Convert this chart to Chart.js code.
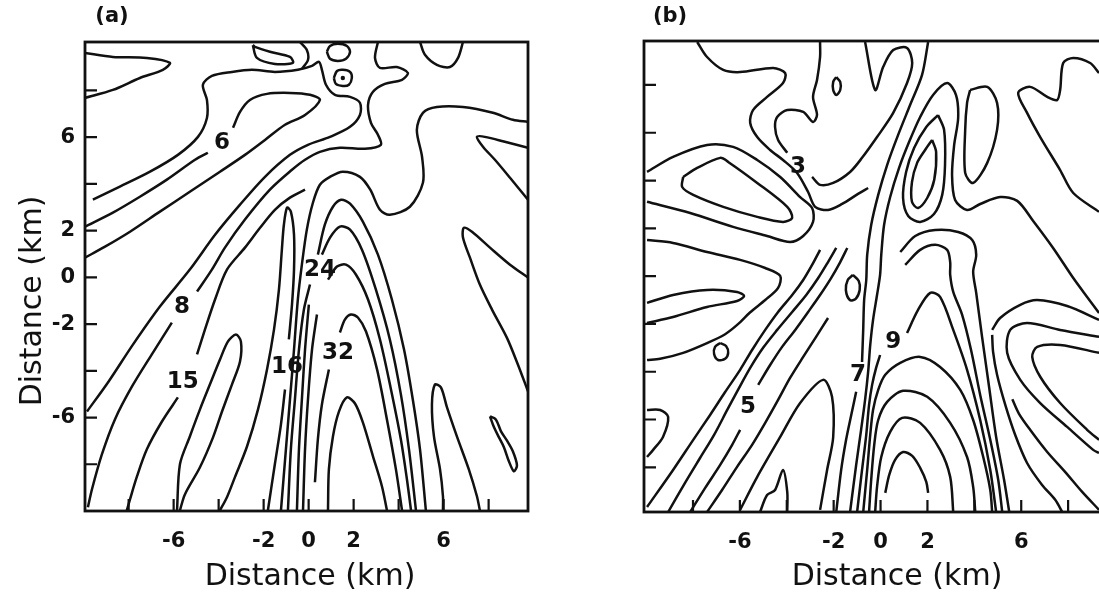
<!DOCTYPE html>
<html>
<head>
<meta charset="utf-8">
<script src="https://cdn.jsdelivr.net/npm/chart.js@4"></script>
<style>
  html, body { margin: 0; padding: 0; background: #fff; overflow: hidden; width: 1099px; height: 594px; }
  #ca { position: absolute; left: 0; top: 0; }
  #cb { position: absolute; left: 560px; top: 0; }
</style>
</head>
<body>
<canvas id="ca" width="560" height="594"></canvas>
<canvas id="cb" width="600" height="594"></canvas>
<script>
// ---- axis ticks (km) ----
const xTickLabels = [-6, -2, 0, 2, 6];
const yTickLabels = [6, 2, 0, -2, -6];

// ---- panel (a) contours, [x km, y km] ----
const aTopLobe = [[-9.94,9.60],[-8.70,9.43],[-7.19,9.39],[-6.17,9.18],[-6.48,8.88],[-7.50,8.53],[-8.70,8.02],[-9.94,7.68]];
const aThinLoop = [[-2.48,9.94],[-2.30,9.39],[-1.50,9.13],[-0.70,9.18],[-0.83,9.43],[-1.72,9.65],[-2.39,9.86],[-2.48,9.94]];
const aHook = [[-0.39,10.07],[-0.08,9.73],[-0.03,9.30],[-0.30,8.92]];
const aOval = [[0.81,9.65],[0.95,9.90],[1.30,9.99],[1.70,9.90],[1.84,9.65],[1.66,9.35],[1.30,9.26],[0.95,9.35],[0.81,9.65]];
const aRing = [[1.12,8.53],[1.26,8.83],[1.52,8.88],[1.84,8.79],[1.92,8.53],[1.79,8.24],[1.52,8.19],[1.21,8.28],[1.12,8.53]];
const aRingDot = [[1.52,8.53]];
const aSpike = [[-9.59,3.32],[-8.39,3.88],[-7.05,4.52],[-5.81,5.24],[-4.92,6.01],[-4.52,6.82],[-4.52,7.59],[-4.70,8.24],[-4.30,8.62],[-3.41,8.79],[-2.52,8.88],[-1.50,8.79],[-0.48,8.88],[0.15,9.05],[0.46,9.22],[0.59,8.88],[0.77,8.24],[1.17,7.81],[1.84,7.72],[2.28,7.47],[2.28,6.95],[1.84,6.44],[0.95,6.01],[-0.03,5.67],[-0.83,5.24],[-1.94,4.30],[-3.05,3.11],[-4.16,1.82],[-5.28,0.33],[-6.61,-1.25],[-7.81,-2.88],[-8.92,-4.50],[-9.85,-5.74]];
const a6a = [[-9.94,2.17],[-8.70,2.77],[-7.50,3.45],[-6.30,4.18],[-5.05,5.03],[-4.48,5.33]];
const a6b = [[-3.36,6.40],[-3.05,7.08],[-2.61,7.59],[-1.85,7.85],[-0.83,7.89],[0.06,7.81],[0.50,7.59],[-0.16,6.95],[-1.05,6.53],[-1.94,5.88],[-2.83,5.24],[-3.94,4.52],[-5.28,3.66],[-6.61,2.81],[-7.94,1.95],[-9.05,1.31],[-9.94,0.84]];
const a8a = [[3.08,10.07],[2.95,9.39],[3.17,8.96],[3.92,9.00],[4.41,8.75],[4.15,8.45],[3.39,8.28],[2.86,7.94],[2.64,7.38],[2.77,6.61],[3.08,6.10],[3.21,5.67],[2.50,5.50],[1.39,5.54],[0.50,5.37],[-0.16,5.03],[-0.74,4.60],[-1.72,3.75],[-2.83,2.47],[-3.72,1.27],[-4.30,0.33],[-4.96,-0.61]];
const a8b = [[-6.08,-1.94],[-6.92,-3.22],[-7.85,-4.67],[-8.61,-6.08],[-9.19,-7.58],[-9.63,-9.07],[-9.81,-9.84]];
const a15a = [[-0.16,3.75],[-0.83,3.41],[-1.50,2.89],[-2.16,2.12],[-2.83,1.27],[-3.63,0.33],[-4.16,-0.95],[-4.61,-2.24],[-4.96,-3.30]];
const a15b = [[-5.81,-5.14],[-6.52,-6.17],[-7.19,-7.36],[-7.63,-8.52],[-7.94,-9.50],[-8.08,-9.97]];
const aFinger = [[-5.85,-9.97],[-5.72,-8.00],[-5.28,-6.81],[-4.83,-5.65],[-4.39,-4.59],[-3.94,-3.52],[-3.59,-2.75],[-3.23,-2.45],[-3.01,-2.75],[-3.05,-3.60],[-3.41,-4.59],[-3.85,-5.74],[-4.25,-6.85],[-4.83,-8.13],[-5.50,-9.29],[-5.72,-9.97]];
const a16a = [[-3.94,-9.97],[-3.63,-9.41],[-3.28,-8.56],[-2.74,-7.24],[-2.25,-5.65],[-1.85,-3.94],[-1.54,-2.24],[-1.32,-0.53],[-1.19,1.18],[-1.10,2.25],[-0.96,2.98],[-0.79,2.81],[-0.65,1.82],[-0.65,0.33],[-0.74,-1.17],[-0.88,-2.66]];
const a16b = [[-1.05,-4.80],[-1.23,-6.29],[-1.50,-7.99],[-1.81,-9.97]];
const aV = [[9.75,6.65],[9.08,6.74],[8.19,7.04],[6.86,7.29],[5.70,7.29],[5.08,7.04],[4.81,6.31],[5.04,5.16],[5.08,4.05],[4.50,3.02],[3.61,2.68],[3.17,2.89],[2.74,3.75],[2.28,4.30],[1.52,4.52],[0.95,4.30],[0.50,3.96],[0.19,3.19],[-0.08,2.04],[-0.30,0.54],[-0.48,-0.95],[-0.65,-3.09],[-0.83,-5.23],[-1.01,-7.36],[-1.23,-9.97]];
const a24a = [[-0.92,-9.97],[-0.79,-7.36],[-0.61,-5.23],[-0.43,-3.09],[-0.21,-1.38],[0.06,-0.31]];
const a24b = [[0.41,0.97],[0.72,2.25],[1.08,3.02],[1.44,3.32],[1.84,3.15],[2.41,2.38],[3.08,0.97],[3.70,-0.95],[4.24,-3.09],[4.63,-5.23],[4.95,-7.36],[5.21,-9.97]];
const aA4a = [[-0.52,-9.97],[-0.43,-7.36],[-0.30,-5.23],[-0.16,-3.09],[0.01,-1.17]];
const aA4b = [[0.59,0.97],[0.95,1.70],[1.39,2.17],[1.84,2.04],[2.37,1.18],[2.99,-0.53],[3.61,-2.66],[4.10,-5.01],[4.46,-7.36],[4.77,-9.97]];
const aA3a = [[-0.25,-9.97],[-0.16,-7.36],[-0.03,-5.23],[0.15,-3.09],[0.37,-1.59]];
const aA3b = [[0.86,-0.10],[1.26,0.46],[1.66,0.54],[2.10,0.12],[2.64,-0.95],[3.17,-2.66],[3.66,-4.80],[4.10,-6.94],[4.37,-8.65],[4.55,-9.97]];
const a32a = [[0.28,-8.77],[0.41,-6.94],[0.59,-5.44],[0.90,-3.94]];
const a32b = [[1.39,-2.36],[1.61,-1.81],[1.88,-1.59],[2.19,-1.72],[2.55,-2.32],[3.04,-3.94],[3.48,-6.08],[3.88,-8.22],[4.15,-9.97]];
const aA1 = [[0.86,-9.97],[0.90,-8.22],[1.08,-6.81],[1.35,-5.74],[1.70,-5.14],[2.06,-5.40],[2.41,-6.21],[2.86,-7.66],[3.26,-8.95],[3.48,-9.97]];
const aTongue1 = [[9.75,5.54],[8.72,5.80],[7.83,6.01],[7.48,6.01],[7.75,5.59],[8.28,5.03],[8.95,4.26],[9.75,3.32]];
const aTongue2 = [[9.75,-0.01],[8.95,0.54],[8.06,1.27],[7.26,1.95],[6.90,2.12],[6.86,1.70],[7.17,0.84],[7.61,-0.31],[8.15,-1.38],[8.81,-2.58],[9.30,-3.73],[9.75,-4.88]];
const aDip = [[4.95,10.07],[5.17,9.52],[5.70,9.09],[6.28,9.00],[6.64,9.39],[6.86,10.07]];
const aFinger2 = [[5.97,-9.97],[5.97,-9.37],[5.84,-8.22],[5.57,-6.81],[5.48,-5.44],[5.61,-4.59],[5.88,-4.71],[6.15,-5.57],[6.59,-6.81],[7.12,-8.22],[7.48,-9.37],[7.61,-9.97]];
const aSquiggle = [[8.06,-5.95],[8.24,-6.42],[8.46,-6.85],[8.68,-7.27],[8.90,-7.87],[9.12,-8.30],[9.26,-8.05],[9.08,-7.45],[8.81,-6.98],[8.55,-6.59],[8.32,-6.08],[8.06,-5.95]];

// contour labels, panel (a)
const aLabelText = ['6', '8', '15', '16', '24', '32'];
const aLabelX = [-3.85, -5.63, -5.59, -0.96, 0.50, 1.30];
const aLabelY = [5.76, -1.29, -4.46, -3.86, 0.33, -3.22];

// ---- panel (b) contours ----
const bTop = [[-7.82,9.80],[-7.40,9.17],[-6.71,8.63],[-5.99,8.54],[-4.58,8.71],[-4.07,8.50],[-4.16,8.08],[-4.84,7.50],[-5.44,6.95],[-5.56,6.41],[-5.26,5.82],[-4.71,5.28],[-4.16,4.86],[-3.56,4.32],[-3.09,3.52],[-2.79,2.90],[-2.24,2.77],[-1.64,3.02],[-0.96,3.44],[-0.53,3.69]];
const b3a = [[-2.58,9.80],[-2.58,9.17],[-2.71,8.21],[-2.88,7.50],[-2.71,6.75],[-2.88,6.45],[-3.30,6.87],[-3.98,6.95],[-4.41,6.66],[-4.50,6.24],[-4.37,5.70],[-3.98,5.16]];
const b3b = [[-2.92,4.15],[-2.58,3.82],[-2.02,3.90],[-1.30,4.36],[-0.79,4.95],[-0.15,5.82],[0.54,6.83],[1.13,8.08],[1.35,8.92],[1.13,9.55],[0.54,9.46],[0.11,8.75],[-0.23,7.79],[-0.66,9.80]];
const bDot = [[-1.89,8.33],[-1.72,8.13],[-1.72,7.79],[-1.89,7.58],[-2.02,7.79],[-2.02,8.13],[-1.89,8.33]];
const bTongueOuter = [[-9.96,4.36],[-8.85,4.99],[-7.40,5.49],[-6.29,5.41],[-5.26,4.86],[-4.28,4.15],[-3.43,3.31],[-2.92,2.85],[-2.88,2.27],[-3.30,1.68],[-3.86,1.43],[-4.84,1.68],[-6.29,2.06],[-8.12,2.64],[-9.96,3.11]];
const bLoop = [[-8.42,4.15],[-7.82,4.53],[-6.84,4.95],[-6.50,4.78],[-5.26,3.90],[-3.98,2.90],[-3.77,2.44],[-4.16,2.27],[-5.26,2.48],[-6.71,2.90],[-7.99,3.40],[-8.46,3.73],[-8.42,4.15]];
const bTongueMid = [[-9.96,1.51],[-8.85,1.39],[-7.40,1.01],[-5.99,0.68],[-4.92,0.34],[-4.28,0.01],[-4.37,-0.49],[-4.92,-1.00],[-5.56,-1.51],[-6.08,-2.01],[-6.63,-2.43],[-7.40,-2.80],[-8.42,-3.21],[-9.40,-3.46],[-9.96,-3.51]];
const bTongueIn = [[-9.96,-1.12],[-8.85,-0.79],[-7.40,-0.58],[-6.12,-0.66],[-5.82,-0.83],[-6.12,-1.04],[-7.40,-1.29],[-8.85,-1.71],[-9.96,-1.96]];
const bRing = [[-6.84,-2.80],[-6.59,-2.92],[-6.50,-3.21],[-6.63,-3.46],[-6.93,-3.51],[-7.10,-3.26],[-7.06,-2.96],[-6.84,-2.80]];
const bNub = [[-9.96,-5.60],[-9.40,-5.60],[-9.06,-5.89],[-9.28,-6.73],[-9.70,-7.27],[-9.96,-7.57]];
const bD1 = [[-9.96,-9.66],[-8.85,-8.11],[-7.99,-6.85],[-7.27,-5.81],[-6.63,-4.85],[-5.99,-3.92],[-5.48,-3.09],[-4.92,-2.25],[-4.37,-1.50],[-3.77,-0.79],[-3.30,-0.16],[-2.92,0.47],[-2.58,1.10]];
const bD2 = [[-9.06,-9.87],[-8.34,-8.65],[-7.70,-7.61],[-7.10,-6.64],[-6.54,-5.60],[-6.08,-4.76],[-5.56,-3.84],[-5.01,-3.00],[-4.41,-2.25],[-3.77,-1.50],[-3.17,-0.79],[-2.66,-0.08],[-2.24,0.59],[-1.89,1.18]];
const bD3a = [[-8.12,-9.87],[-7.48,-8.86],[-6.84,-7.90],[-6.33,-7.06],[-5.99,-6.43]];
const bD3b = [[-5.22,-4.55],[-4.71,-3.72],[-4.20,-2.96],[-3.64,-2.25],[-3.09,-1.50],[-2.58,-0.79],[-2.11,-0.08],[-1.72,0.59],[-1.42,1.18]];
const bD4 = [[-7.40,-9.87],[-6.76,-8.95],[-6.12,-7.98],[-5.48,-7.06],[-4.92,-6.14],[-4.37,-5.18],[-3.86,-4.26],[-3.30,-3.38],[-2.75,-2.54],[-2.24,-1.75]];
const bLobe = [[-5.99,-9.78],[-5.26,-8.40],[-4.28,-6.73],[-3.43,-5.31],[-2.45,-4.34],[-2.07,-5.05],[-2.02,-6.73],[-2.28,-8.11],[-2.58,-9.78]];
const bBump = [[-5.14,-9.87],[-4.84,-9.16],[-4.50,-8.95],[-4.16,-8.11],[-3.98,-9.03],[-3.98,-9.87]];
const bSmallOval = [[-1.18,0.05],[-0.93,-0.20],[-0.89,-0.58],[-1.06,-0.95],[-1.31,-1.00],[-1.48,-0.58],[-1.40,-0.16],[-1.18,0.05]];
const b7a = [[2.03,9.80],[1.77,8.42],[1.26,7.16],[0.75,5.91],[0.28,4.65],[-0.10,3.40],[-0.40,2.14],[-0.57,0.89],[-0.61,-0.16],[-0.70,-1.00],[-0.74,-2.25],[-0.79,-3.59]];
const b7b = [[-1.04,-4.84],[-1.25,-5.81],[-1.47,-6.85],[-1.68,-8.11],[-1.89,-9.87]];
const bO = [[9.32,-1.54],[8.81,-0.87],[8.22,-0.08],[7.36,1.18],[6.51,2.31],[5.83,3.15],[5.10,3.31],[4.25,3.02],[3.69,2.77],[3.18,3.19],[3.05,4.23],[3.14,5.49],[3.31,6.62],[3.22,7.58],[2.84,8.08],[2.24,7.58],[1.69,6.66],[1.22,5.62],[0.79,4.53],[0.41,3.31],[0.15,2.14],[0.03,0.89],[-0.02,0.05],[-0.15,-0.79],[-0.32,-1.83],[-0.44,-2.88],[-0.53,-4.01],[-0.66,-5.18],[-0.83,-6.43],[-1.04,-7.90],[-1.30,-9.87]];
const bLobe2 = [[2.45,6.74],[2.71,6.12],[2.75,4.65],[2.63,3.40],[2.28,2.60],[1.69,2.27],[1.18,2.52],[0.96,3.27],[1.09,4.36],[1.43,5.36],[1.95,6.24],[2.45,6.74]];
const bInner = [[2.20,5.70],[2.37,5.20],[2.29,4.03],[1.99,3.27],[1.60,2.85],[1.34,3.11],[1.34,3.94],[1.56,4.74],[1.90,5.28],[2.20,5.70]];
const bOval = [[3.82,7.79],[4.55,7.92],[4.97,7.25],[4.97,6.12],[4.55,4.74],[3.95,3.90],[3.61,4.32],[3.61,6.12],[3.69,7.25],[3.82,7.79]];
const bFar = [[9.32,8.50],[8.94,8.92],[8.22,9.13],[7.79,8.92],[7.66,7.79],[7.53,7.37],[7.11,7.50],[6.38,7.92],[5.87,7.67],[6.25,6.83],[6.81,5.82],[7.66,4.44],[8.22,3.48],[9.32,2.69]];
const b9a = [[-1.00,-9.87],[-0.79,-8.11],[-0.61,-6.64],[-0.49,-5.39],[-0.36,-4.55],[-0.19,-3.84],[-0.02,-3.30]];
const b9b = [[1.13,-2.38],[1.60,-1.41],[2.12,-0.70],[2.54,-0.87],[3.10,-2.25],[3.69,-3.92],[4.25,-6.02],[4.68,-8.11],[4.93,-9.87]];
const bA4 = [[-0.74,-9.87],[-0.57,-8.11],[-0.44,-6.64],[-0.32,-5.60],[-0.10,-4.76],[0.20,-4.13],[0.84,-3.63],[1.69,-3.38],[2.54,-3.80],[3.40,-4.76],[3.95,-6.02],[4.38,-7.57],[4.68,-8.95],[4.76,-9.87]];
const bA3 = [[-0.49,-9.87],[-0.40,-8.53],[-0.27,-7.06],[-0.10,-6.02],[0.28,-5.26],[0.96,-4.80],[1.99,-5.05],[2.97,-6.14],[3.69,-7.57],[3.95,-8.82],[4.04,-9.87]];
const bA2 = [[-0.23,-9.87],[-0.15,-8.82],[0.03,-7.57],[0.41,-6.52],[0.92,-5.93],[1.69,-6.14],[2.54,-7.27],[2.97,-8.40],[3.10,-9.87]];
const bA1 = [[0.20,-9.07],[0.37,-8.32],[0.62,-7.69],[0.96,-7.36],[1.35,-7.52],[1.69,-8.02],[1.95,-8.61],[2.03,-9.07]];
const bR1 = [[1.05,0.47],[1.69,1.10],[2.33,1.31],[2.84,1.10],[2.97,0.59],[2.97,0.05],[3.10,-0.66],[3.48,-1.62],[3.86,-3.09],[4.25,-4.97],[4.68,-6.85],[5.02,-8.53],[5.19,-9.87]];
const bR2 = [[0.84,1.01],[1.48,1.68],[2.33,1.93],[3.31,1.85],[3.91,1.51],[4.08,0.89],[3.95,0.18],[4.08,-0.70],[4.33,-2.54],[4.63,-4.64],[4.93,-6.73],[5.27,-8.53],[5.49,-9.87]];
const bXa = [[4.76,-2.25],[5.10,-1.75],[5.96,-1.20],[6.68,-1.00],[7.96,-1.25],[9.32,-1.83]];
const bXb = [[4.76,-2.46],[4.80,-3.17],[4.97,-4.13],[5.32,-5.39],[5.74,-6.64],[6.25,-7.82],[6.89,-8.74],[7.45,-9.36],[7.75,-9.87]];
const bTongueR = [[9.32,-2.54],[7.66,-2.25],[6.25,-1.96],[5.53,-2.25],[5.40,-3.21],[5.96,-4.34],[6.81,-5.31],[7.96,-6.31],[9.07,-7.27],[9.32,-7.40]];
const bTongueR2 = [[9.32,-3.21],[7.66,-2.88],[6.68,-2.96],[6.47,-3.38],[6.81,-4.21],[7.66,-5.31],[8.81,-6.43],[9.32,-6.85]];
const bCorner = [[5.62,-5.15],[5.90,-5.75],[6.38,-6.43],[7.11,-7.36],[7.88,-8.20],[8.60,-9.03],[9.32,-9.78]];

// contour labels, panel (b)
const bLabelText = ['3', '5', '7', '9'];
const bLabelX = [-3.52, -5.65, -0.96, 0.54];
const bLabelY = [4.57, -5.47, -4.13, -2.75];

const aContours = [aTopLobe, aThinLoop, aHook, aOval, aRing, aSpike, a6a, a6b, a8a, a8b, a15a, a15b, aFinger,
  a16a, a16b, aV, a24a, a24b, aA4a, aA4b, aA3a, aA3b, a32a, a32b, aA1, aTongue1, aTongue2, aDip, aFinger2, aSquiggle];
const bContours = [bTop, b3a, b3b, bDot, bTongueOuter, bLoop, bTongueMid, bTongueIn, bRing, bNub, bD1, bD2, bD3a, bD3b,
  bD4, bLobe, bBump, bSmallOval, b7a, b7b, bO, bLobe2, bInner, bOval, bFar, b9a, b9b, bA4, bA3, bA2, bA1, bR1, bR2,
  bXa, bXb, bTongueR, bTongueR2, bCorner];

const INK = '#111';
const toPts = c => c.map(p => ({x: p[0], y: p[1]}));

function lineSets(contours) {
  return contours.map(c => ({
    data: toPts(c),
    showLine: true,
    borderColor: INK,
    borderWidth: 2.5,
    pointRadius: 0,
    tension: 0.3,
    fill: false
  }));
}

// frame, inward tick marks, contour labels and titles
const decor = {
  id: 'decor',
  afterDatasetsDraw(chart, args, o) {
    const {ctx, chartArea: a, scales: {x, y}} = chart;
    ctx.save();
    ctx.strokeStyle = INK;
    ctx.lineWidth = 2.8;
    ctx.strokeRect(a.left, a.top, a.right - a.left, a.bottom - a.top);
    ctx.lineWidth = 2.2;
    ctx.beginPath();
    x.ticks.forEach(t => {
      if (Math.abs(t.value) > 9) return;
      const p = x.getPixelForValue(t.value);
      ctx.moveTo(p, a.bottom); ctx.lineTo(p, a.bottom - 12);
    });
    y.ticks.forEach(t => {
      if (Math.abs(t.value) > 9) return;
      const p = y.getPixelForValue(t.value);
      ctx.moveTo(a.left, p); ctx.lineTo(a.left + 12, p);
    });
    ctx.stroke();

    ctx.fillStyle = INK;
    ctx.textAlign = 'center';
    ctx.textBaseline = 'middle';
    ctx.font = 'bold 23px "DejaVu Sans"';
    o.text.forEach((s, i) => ctx.fillText(s, x.getPixelForValue(o.xs[i]), y.getPixelForValue(o.ys[i])));
    ctx.font = 'bold 21px "DejaVu Sans"';
    ctx.fillText(o.tag, o.tagX, 17);

    ctx.font = '30px "DejaVu Sans"';
    ctx.fillText('Distance (km)', o.titleX, 577);
    if (o.yTitle) {
      ctx.translate(33, 301);
      ctx.rotate(-Math.PI / 2);
      ctx.fillText('Distance (km)', 0, 0);
    }
    ctx.restore();
  }
};

function makePanel(id, contours, extra, range, box, deco) {
  const datasets = lineSets(contours).concat(extra);
  return new Chart(document.getElementById(id), {
    type: 'scatter',
    data: {datasets},
    options: {
      responsive: false,
      animation: false,
      layout: {padding: {left: 0, top: box.top, right: box.right, bottom: 0}},
      plugins: {legend: {display: false}, tooltip: {enabled: false}, decor: deco},
      scales: {
        x: {
          min: range.x[0], max: range.x[1],
          grid: {display: false}, border: {display: false},
          afterFit: s => { s.height = box.xh; },
          ticks: {
            stepSize: 2, includeBounds: false, autoSkip: false, maxRotation: 0,
            padding: 10, color: INK, font: {family: 'DejaVu Sans', size: 21, weight: 'bold'},
            callback: v => xTickLabels.includes(v) ? String(v) : ''
          }
        },
        y: {
          min: range.y[0], max: range.y[1],
          grid: {display: false}, border: {display: false},
          afterFit: s => { s.width = box.yw; },
          ticks: {
            stepSize: 2, includeBounds: false, autoSkip: false,
            padding: 2, color: INK, font: {family: 'DejaVu Sans', size: 21, weight: 'bold'},
            callback: v => (box.yLabels && yTickLabels.includes(v)) ? String(v) : ''
          }
        }
      }
    },
    plugins: [decor]
  });
}

makePanel('ca', aContours,
  [{data: toPts(aRingDot), pointRadius: 2.2, pointBackgroundColor: INK, pointBorderWidth: 0, showLine: false}],
  {x: [-9.94, 9.75], y: [-10, 10.07]},
  {top: 42, right: 32, xh: 83, yw: 85, yLabels: true},
  {text: aLabelText, xs: aLabelX, ys: aLabelY, tag: '(a)', tagX: 112, titleX: 310, yTitle: true});

makePanel('cb', bContours, [],
  {x: [-10.09, 10.0], y: [-9.87, 9.84]},
  {top: 41, right: 45, xh: 82, yw: 84, yLabels: false},
  {text: bLabelText, xs: bLabelX, ys: bLabelY, tag: '(b)', tagX: 110, titleX: 337, yTitle: false});
</script>
</body>
</html>
